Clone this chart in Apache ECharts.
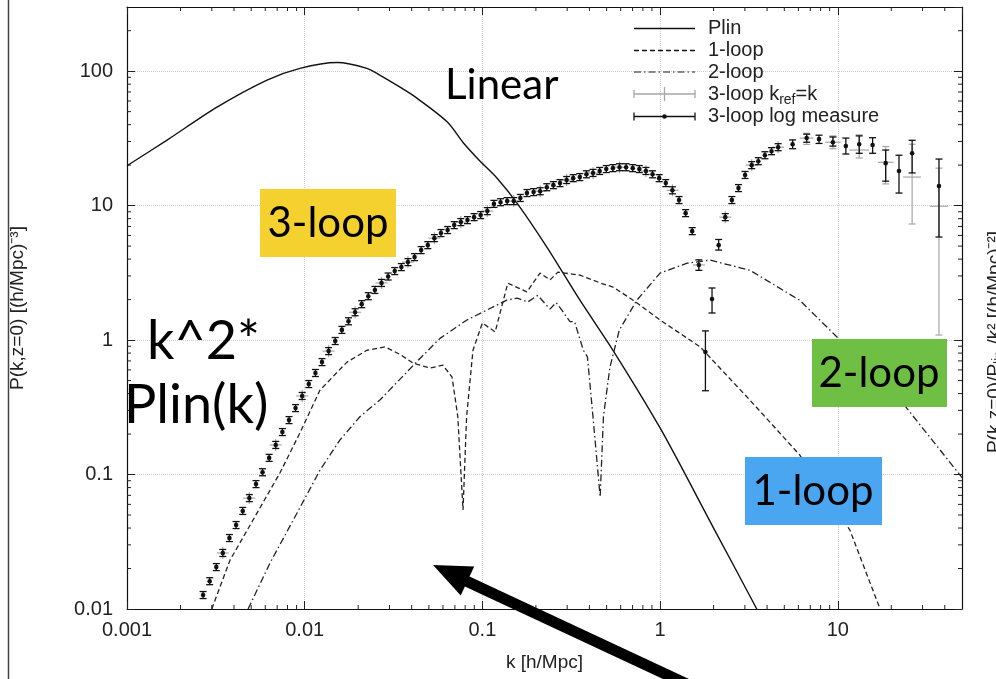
<!DOCTYPE html>
<html>
<head>
<meta charset="utf-8">
<script src="https://cdn.jsdelivr.net/npm/echarts@6/dist/echarts.min.js"></script>
<style>
  html, body { margin: 0; padding: 0; background: #fff; }
  #chart { width: 996px; height: 679px; }
</style>
</head>
<body>
<div id="chart"></div>
<script>
// ---- values ----
const xTicks = [0.001, 0.01, 0.1, 1, 10];
const yTicks = [0.01, 0.1, 1, 10, 100];
const xRange = [0.001, 50];
const yRange = [0.01, 300];

// Plin (solid)
const plinK = [0.001, 0.00168, 0.00321, 0.00614, 0.0094, 0.0152, 0.0224, 0.0266, 0.0344, 0.0407, 0.0633,
    0.0778, 0.0968, 0.121, 0.157, 0.231, 0.354, 0.543, 1.0, 2.0, 3.5, 5];
const plinY = [19.8, 30.7, 54, 85.8, 105, 116, 105, 93, 76, 66, 42,
    29.5, 21.5, 16.0, 10.4, 4.9, 1.98, 0.84, 0.222, 0.04, 0.01, 0.004];

// 1-loop (dashed)
const oneLoopK = [0.0030, 0.0038, 0.00512, 0.00726, 0.0094, 0.0122, 0.0173, 0.0224, 0.0283, 0.0345, 0.0407,
    0.0507, 0.060, 0.0675, 0.0727, 0.0778, 0.0815, 0.0885, 0.100, 0.118, 0.139, 0.178, 0.211, 0.240, 0.266,
    0.354, 0.46, 0.543, 0.705, 1.0, 1.68, 3.2, 6.1, 11.7, 17.3];
const oneLoopY = [0.01, 0.0231, 0.0459, 0.103, 0.204, 0.425, 0.686, 0.84, 0.89, 0.78, 0.674,
    0.62, 0.65, 0.53, 0.27, 0.0545, 0.27, 0.84, 1.34, 1.15, 2.65, 2.28, 3.15, 2.8, 3.2,
    3.04, 2.66, 2.48, 1.98, 1.41, 0.89, 0.358, 0.14, 0.0386, 0.01];

// 2-loop (dash-dot)
const twoLoopK = [0.0048, 0.00638, 0.00906, 0.0122, 0.0158, 0.0205, 0.0266, 0.042, 0.0577, 0.0818, 0.137,
    0.157, 0.18, 0.205, 0.24, 0.26, 0.28, 0.311, 0.33, 0.37, 0.39, 0.419, 0.46, 0.48, 0.522, 0.59, 0.74,
    1.0, 1.42, 1.91, 3.2, 6.1, 10.3, 22.4, 50];
const twoLoopY = [0.01, 0.022, 0.0518, 0.108, 0.181, 0.27, 0.36, 0.674, 1.03, 1.41, 1.98,
    2.05, 1.92, 2.15, 1.7, 1.9, 1.67, 1.37, 1.37, 0.84, 0.75, 0.27, 0.068, 0.27, 0.63, 1.19, 1.98,
    3.15, 3.73, 3.93, 3.31, 1.98, 1.0, 0.36, 0.095];

// 3-loop log measure (black points, small error bars)
const measK = [0.00268, 0.00292, 0.00318, 0.00346, 0.00377, 0.00411, 0.00448, 0.00488, 0.00532, 0.00579,
    0.00631, 0.00687, 0.00749, 0.00816, 0.00888, 0.00968, 0.01054, 0.01149, 0.01251, 0.01363,
    0.01485, 0.01619, 0.01764, 0.01921, 0.02093, 0.0228, 0.02484, 0.02706, 0.02948, 0.03211,
    0.03499, 0.03811, 0.04152, 0.04523, 0.04928, 0.05368, 0.05848, 0.06371, 0.06941, 0.07561,
    0.08241, 0.08978, 0.0978, 0.1066, 0.1161, 0.1265, 0.1378, 0.1501, 0.1635, 0.1781,
    0.1941, 0.2114, 0.2303, 0.2509, 0.2733, 0.2978, 0.3244, 0.3534, 0.385, 0.4194,
    0.4571, 0.498, 0.5425, 0.591, 0.6438, 0.7014, 0.7641, 0.8324, 0.9068, 0.9879,
    1.0765, 1.173, 1.278, 1.392, 1.516,
    2.327, 2.535, 2.761, 3.008, 3.277, 3.57, 3.889, 4.237, 4.616];
const measY = [0.0127, 0.0161, 0.0205, 0.0261, 0.0337, 0.0421, 0.0536, 0.0668, 0.0849, 0.104,
    0.133, 0.166, 0.207, 0.254, 0.312, 0.384, 0.471, 0.569, 0.686, 0.828,
    0.984, 1.19, 1.38, 1.61, 1.85, 2.12, 2.36, 2.66, 2.97, 3.26,
    3.49, 3.80, 4.14, 4.67, 5.08, 5.73, 6.25, 6.58, 7.16, 7.54,
    7.80, 8.21, 8.50, 9.10, 10.3, 10.6, 10.8, 10.8, 11.4, 12.4,
    12.6, 12.8, 13.7, 14.2, 14.7, 15.5, 16.0, 16.3, 17.1, 17.5,
    18.1, 18.7, 19.0, 19.3, 19.3, 19.0, 18.7, 18.1, 17.1, 16.0,
    14.7, 13.0, 11.0, 8.79, 6.46,
    8.21, 11.0, 13.5, 16.9, 20.0, 21.4, 23.7, 25.4, 27.2];
// 3-loop log measure, points with visible error bars
const measTailK = [1.652, 1.799, 1.960, 2.136, 5.57, 6.68, 7.84, 9.39, 11.1, 13.2, 15.7, 18.6, 22.1, 26.2, 37.1];
const measTailY = [3.62, 0.815, 2.02, 5.08, 28.6, 31.8, 31.2, 29.6, 27.7, 28.6, 28.2, 20.7, 18.1, 24.5, 14.0];
const measTailLo = [3.3, 0.42, 1.59, 4.67, 26.5, 29.6, 29.0, 27.7, 24.2, 24.5, 24.5, 15.2, 12.4, 17.5, 5.84];
const measTailHi = [3.95, 1.17, 2.44, 5.6, 30.8, 34.0, 33.4, 32.4, 31.8, 33.0, 32.0, 25.9, 23.7, 30.6, 22.2];

// 3-loop k_ref=k (grey crosses)
const krefK = [0.00346, 0.00488, 0.00687, 0.00968, 0.01363, 0.01921, 0.02706, 0.03811, 0.05368, 0.07561,
    0.1066, 0.1501, 0.2114, 0.2978, 0.4194, 0.591, 0.8324, 1.173, 1.652, 2.327, 3.277, 4.616];
const krefY = [0.0261, 0.0668, 0.166, 0.384, 0.828, 1.61, 2.66, 3.80, 5.73, 7.54,
    9.10, 10.8, 12.8, 15.5, 17.5, 19.3, 18.1, 13.0, 3.62, 8.21, 20.0, 27.2];
const krefTailK = [6.68, 9.39, 13.2, 18.6, 26.2, 37.1];
const krefTailY = [31.8, 29.6, 25.9, 21.0, 16.3, 9.9];
const krefTailLo = [28.5, 26.5, 22.6, 14.5, 7.3, 1.09];
const krefTailHi = [34.5, 33.0, 33.6, 27.5, 28.6, 19.0];
const krefTailKLo = [6.1, 8.5, 11.6, 16.8, 23.3, 33.0];
const krefTailKHi = [7.3, 10.4, 15.0, 20.6, 29.4, 41.7];

// ---- helpers ----
const FONT = "'Liberation Sans', Arial, sans-serif";
const NOTE_FONT = "Lato, 'Open Sans', sans-serif";
const minorSteps = [2, 3, 4, 5, 6, 7, 8, 9];

function zip(a, b) { return a.map((v, i) => [v, b[i]]); }

function tickLabel(v) {
    const l = Math.log10(v), e = Math.round(l);
    if (Math.abs(l - e) > 1e-6) return '';
    return e >= 0 ? String(Math.pow(10, e)) : Math.pow(10, e).toFixed(-e);
}

function seg(x1, y1, x2, y2, color, w) {
    return { type: 'line', shape: { x1: x1, y1: y1, x2: x2, y2: y2 }, style: { stroke: color, lineWidth: w || 1 } };
}

// minor ticks on all four sides (gnuplot style, inward)
function renderMinorTicks(params, api) {
    const a = api.coord([xRange[0], yRange[0]]);
    const b = api.coord([xRange[1], yRange[1]]);
    const left = a[0], bottom = a[1], right = b[0], top = b[1];
    const kids = [];
    xTicks.forEach(d => minorSteps.forEach(m => {
        const v = d * m;
        if (v >= xRange[1]) return;
        const x = api.coord([v, yRange[0]])[0];
        kids.push(seg(x, bottom, x, bottom - 4, '#222'), seg(x, top, x, top + 4, '#222'));
    }));
    yTicks.forEach(d => minorSteps.forEach(m => {
        const v = d * m;
        if (v >= yRange[1]) return;
        const y = api.coord([xRange[0], v])[1];
        kids.push(seg(left, y, left + 4, y, '#222'), seg(right, y, right - 4, y, '#222'));
    }));
    return { type: 'group', children: kids };
}

// black points with vertical error bars
function renderMeas(params, api) {
    const k = api.value(0), y = api.value(1), lo = api.value(2), hi = api.value(3);
    const p = api.coord([k, y]);
    let yt = p[1] - 3.5, yb = p[1] + 3.5;
    if (isFinite(lo) && isFinite(hi) && lo > 0) {
        yt = api.coord([k, hi])[1];
        yb = api.coord([k, lo])[1];
    }
    const c = '#111', cap = 3.5;
    return {
        type: 'group', children: [
            seg(p[0], yt, p[0], yb, c, 1.3),
            seg(p[0] - cap, yt, p[0] + cap, yt, c, 1.3),
            seg(p[0] - cap, yb, p[0] + cap, yb, c, 1.3),
            { type: 'circle', shape: { cx: p[0], cy: p[1], r: 2.3 }, style: { fill: c } }
        ]
    };
}

// grey crosses with x and y error bars
function renderKref(params, api) {
    const k = api.value(0), y = api.value(1), lo = api.value(2), hi = api.value(3);
    const klo = api.value(4), khi = api.value(5);
    const p = api.coord([k, y]);
    const c = '#a6a6a6', cap = 3.5;
    if (!(isFinite(lo) && lo > 0)) {
        // small plain cross
        return {
            type: 'group', children: [
                seg(p[0], p[1] - 6, p[0], p[1] + 6, c, 1.2),
                seg(p[0] - 6, p[1], p[0] + 6, p[1], c, 1.2)
            ]
        };
    }
    const yt = api.coord([k, hi])[1], yb = api.coord([k, lo])[1];
    const xl = api.coord([klo, y])[0], xr = api.coord([khi, y])[0];
    return {
        type: 'group', children: [
            seg(p[0], yt, p[0], yb, c, 1.2),
            seg(p[0] - cap, yt, p[0] + cap, yt, c, 1.2),
            seg(p[0] - cap, yb, p[0] + cap, yb, c, 1.2),
            seg(xl, p[1], xr, p[1], c, 1.2)
        ]
    };
}

const measData = measK.map((k, i) => [k, measY[i], null, null])
    .concat(measTailK.map((k, i) => [k, measTailY[i], measTailLo[i], measTailHi[i]]));
const krefData = krefK.map((k, i) => [k, krefY[i], null, null, null, null])
    .concat(krefTailK.map((k, i) => [k, krefTailY[i], krefTailLo[i], krefTailHi[i], krefTailKLo[i], krefTailKHi[i]]));

// ---- legend & annotations (graphic) ----
const measureCtx = document.createElement('canvas').getContext('2d');
measureCtx.font = '20px ' + FONT;
const legX0 = 634, legX1 = 695, legTextX = 708;
const legRows = [28.5, 50.5, 72, 94, 116.5];

function legText(txt, y, x) {
    return { type: 'text', x: x || legTextX, y: y, z: 120,
        style: { text: txt, font: '20px ' + FONT, fill: '#222', verticalAlign: 'middle' } };
}

const krefLead = '3-loop k';
const krefLeadW = measureCtx.measureText(krefLead).width;
measureCtx.font = '14px ' + FONT;
const refW = measureCtx.measureText('ref').width;

const graphics = [
    // slide frame line at far left
    seg(8.5, 0, 8.5, 679, '#444', 1.5),
    // legend samples
    seg(legX0, legRows[0], legX1, legRows[0], '#111', 1.3),
    Object.assign(seg(legX0, legRows[1], legX1, legRows[1], '#111', 1.3), { style: { stroke: '#111', lineWidth: 1.3, lineDash: [5, 3] } }),
    Object.assign(seg(legX0, legRows[2], legX1, legRows[2], '#666', 1.3), { style: { stroke: '#666', lineWidth: 1.3, lineDash: [7, 3, 1.5, 3] } }),
    seg(legX0, legRows[3], legX1, legRows[3], '#a6a6a6', 1.3),
    seg(legX0, legRows[3] - 4, legX0, legRows[3] + 4, '#a6a6a6', 1.3),
    seg(legX1, legRows[3] - 4, legX1, legRows[3] + 4, '#a6a6a6', 1.3),
    seg((legX0 + legX1) / 2, legRows[3] - 7, (legX0 + legX1) / 2, legRows[3] + 7, '#a6a6a6', 1.3),
    seg(legX0, legRows[4], legX1, legRows[4], '#111', 1.3),
    seg(legX0, legRows[4] - 4, legX0, legRows[4] + 4, '#111', 1.3),
    seg(legX1, legRows[4] - 4, legX1, legRows[4] + 4, '#111', 1.3),
    { type: 'circle', shape: { cx: (legX0 + legX1) / 2, cy: legRows[4], r: 2.3 }, style: { fill: '#111' }, z: 120 },
    legText('Plin', legRows[0]),
    legText('1-loop', legRows[1]),
    legText('2-loop', legRows[2]),
    legText(krefLead, legRows[3]),
    { type: 'text', x: legTextX + krefLeadW, y: legRows[3] + 6, z: 120,
        style: { text: 'ref', font: '14px ' + FONT, fill: '#222', verticalAlign: 'middle' } },
    legText('=k', legRows[3], legTextX + krefLeadW + refW),
    legText('3-loop log measure', legRows[4]),

    // coloured labels
    { type: 'rect', shape: { x: 260, y: 189, width: 136, height: 68 }, style: { fill: '#f5d130' }, z: 110 },
    { type: 'text', x: 328, y: 223, z: 111, style: { text: '3-loop', font: '42px ' + NOTE_FONT, fill: '#000', align: 'center', verticalAlign: 'middle' } },
    { type: 'rect', shape: { x: 812, y: 339, width: 135, height: 68 }, style: { fill: '#6fbf44' }, z: 110 },
    { type: 'text', x: 879, y: 373, z: 111, style: { text: '2-loop', font: '42px ' + NOTE_FONT, fill: '#000', align: 'center', verticalAlign: 'middle' } },
    { type: 'rect', shape: { x: 745, y: 457, width: 137, height: 68 }, style: { fill: '#4ba6f2' }, z: 110 },
    { type: 'text', x: 813, y: 491, z: 111, style: { text: '1-loop', font: '42px ' + NOTE_FONT, fill: '#000', align: 'center', verticalAlign: 'middle' } },
    { type: 'text', x: 445, y: 85, z: 111, style: { text: 'Linear', font: '42px ' + NOTE_FONT, fill: '#000', verticalAlign: 'middle' } },
    { type: 'text', x: 147, y: 342, z: 111, style: { text: 'k^2*', font: '54px ' + NOTE_FONT, fill: '#000', verticalAlign: 'middle' } },
    { type: 'text', x: 124, y: 406, z: 111, style: { text: 'Plin(k)', font: '54px ' + NOTE_FONT, fill: '#000', verticalAlign: 'middle' } },

    // arrow
    { type: 'line', z: 115, shape: { x1: 706, y1: 693, x2: 464, y2: 580 }, style: { stroke: '#000', lineWidth: 11 } },
    { type: 'polygon', z: 115, shape: { points: [[433, 565], [460.7, 595.5], [474.2, 566.5]] }, style: { fill: '#000' } },

    // right-hand axis title, cut by the slide edge
    { type: 'text', x: 995, y: 342, rotation: Math.PI / 2, z: 111,
        style: { text: 'P(k,z=0)/P\u2097\u1d62\u2099 /k\u00b2 [(h/Mpc)\u207b\u00b2]', font: '19px ' + FONT, fill: '#222', align: 'center', verticalAlign: 'middle' } }
];
graphics.forEach(g => { if (g.z == null) g.z = 120; });

// ---- chart ----
const chart = echarts.init(document.getElementById('chart'));

const axisCommon = {
    type: 'log',
    logBase: 10,
    axisLine: { show: true, onZero: false, lineStyle: { color: '#111', width: 1.2 } },
    axisTick: { show: true, inside: true, length: 8, lineStyle: { color: '#222' } },
    minorTick: { show: false },
};

chart.setOption({
    animation: false,
    backgroundColor: '#fff',
    grid: { left: 127, right: 34, top: 7, bottom: 70, containLabel: false, outerBoundsMode: 'none' },
    xAxis: [
        Object.assign({}, axisCommon, {
            min: xRange[0], max: xRange[1], position: 'bottom',
            splitLine: { show: true, lineStyle: { color: '#cfcfcf', type: 'dotted', width: 1 } },
            axisLabel: { formatter: tickLabel, margin: 11, color: '#222', fontSize: 20, fontFamily: FONT,
                showMinLabel: true, showMaxLabel: false },
            name: 'k [h/Mpc]', nameLocation: 'middle', nameGap: 44,
            nameTextStyle: { color: '#222', fontSize: 19, fontFamily: FONT }
        }),
        Object.assign({}, axisCommon, {
            min: xRange[0], max: xRange[1], position: 'top',
            splitLine: { show: false }, axisLabel: { show: false }
        })
    ],
    yAxis: [
        Object.assign({}, axisCommon, {
            min: yRange[0], max: yRange[1], position: 'left',
            splitLine: { show: true, lineStyle: { color: '#cfcfcf', type: 'dotted', width: 1 } },
            axisLabel: { formatter: tickLabel, margin: 14, color: '#222', fontSize: 20, fontFamily: FONT,
                showMinLabel: true, showMaxLabel: false },
            name: 'P(k,z=0) [(h/Mpc)\u207b\u00b3]', nameLocation: 'middle', nameGap: 100,
            nameTextStyle: { color: '#222', fontSize: 19, fontFamily: FONT }
        }),
        Object.assign({}, axisCommon, {
            min: yRange[0], max: yRange[1], position: 'right',
            splitLine: { show: false }, axisLabel: { show: false }
        })
    ],
    series: [
        {
            name: 'minor ticks', type: 'custom', silent: true, clip: false,
            data: [[1, 1]], renderItem: renderMinorTicks, z: 1
        },
        {
            name: 'Plin', type: 'line', data: zip(plinK, plinY), showSymbol: false, smooth: 0.3,
            lineStyle: { color: '#111', width: 1.4 }, z: 3
        },
        {
            name: '1-loop', type: 'line', data: zip(oneLoopK, oneLoopY), showSymbol: false,
            lineStyle: { color: '#222', width: 1.3, type: [5, 3] }, z: 3
        },
        {
            name: '2-loop', type: 'line', data: zip(twoLoopK, twoLoopY), showSymbol: false,
            lineStyle: { color: '#222', width: 1.3, type: [7, 3, 1.5, 3] }, z: 3
        },
        {
            name: '3-loop k_ref=k', type: 'custom', data: krefData, renderItem: renderKref,
            encode: { x: 0, y: 1 }, clip: true, z: 4
        },
        {
            name: '3-loop log measure', type: 'custom', data: measData, renderItem: renderMeas,
            encode: { x: 0, y: 1 }, clip: true, z: 5
        }
    ],
    graphic: graphics
});
</script>
</body>
</html>
